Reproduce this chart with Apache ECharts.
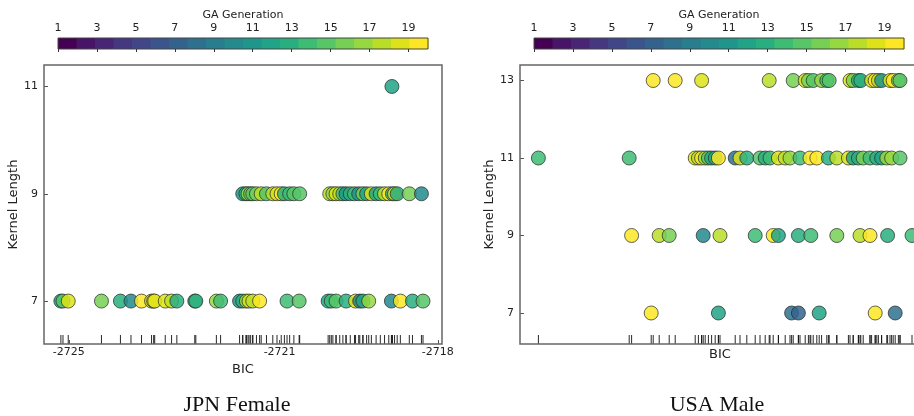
<!DOCTYPE html>
<html lang="en">
<head>
    <meta charset="UTF-8">
    <title>GA kernel length vs BIC</title>
    <script src="https://cdn.jsdelivr.net/npm/echarts@6/dist/echarts.min.js"></script>
    <style>
        html, body { margin: 0; padding: 0; background: #fff; }
        #main { width: 914px; height: 416px; }
    </style>
</head>
<body>
<div id="main"></div>
<script type="text/javascript">
    // viridis, 20 steps (one per GA generation)
    var viridis20 = ['#440154', '#481467', '#482576', '#453781', '#404688', '#39558c', '#33638d', '#2d718e', '#287d8e', '#238a8d',
        '#1f968b', '#20a386', '#29af7f', '#3dbc74', '#56c667', '#75d054', '#95d840', '#bade28', '#dde318', '#fde725'];
    var genTicks = [1, 3, 5, 7, 9, 11, 13, 15, 17, 19];

    // JPN Female: BIC and generation per kernel length
    var jpnBic7 = [-2725.15, -2725.11, -2725.01, -2724.38, -2724.02, -2723.82, -2723.62, -2723.43, -2723.39, -2723.37, -2723.17, -2723.05, -2722.95,
        -2722.61, -2722.59, -2722.20, -2722.12, -2721.76, -2721.70, -2721.63, -2721.58, -2721.51, -2721.38, -2720.86, -2720.63,
        -2720.08, -2720.02, -2719.93, -2719.74, -2719.56, -2719.48, -2719.42, -2719.31, -2718.88, -2718.71, -2718.48, -2718.28];
    var jpnGen7 = [12, 15, 19, 16, 13, 10, 20, 18, 20, 19, 19, 18, 13, 14, 13, 17, 14, 11, 13, 17, 19, 18, 20, 14, 15,
        12, 14, 15, 13, 19, 9, 12, 17, 10, 20, 13, 15];
    var jpnBic9 = [-2721.70, -2721.64, -2721.60, -2721.55, -2721.51, -2721.44, -2721.35, -2721.25, -2721.13, -2721.05, -2720.97, -2720.91,
        -2720.81, -2720.73, -2720.62, -2720.05, -2719.99, -2719.93, -2719.86, -2719.80, -2719.74, -2719.66, -2719.58, -2719.50,
        -2719.42, -2719.35, -2719.26, -2719.17, -2719.09, -2719.01, -2718.93, -2718.86, -2718.82, -2718.77, -2718.54, -2718.31];
    var jpnGen9 = [11, 13, 17, 16, 15, 16, 18, 15, 18, 19, 20, 13, 14, 15, 15, 18, 17, 19, 18, 14, 11, 13, 14, 11,
        16, 12, 19, 12, 14, 18, 20, 13, 19, 13, 16, 10];
    var jpnBic11 = [-2718.87];
    var jpnGen11 = [12];
    var jpnTicks = [-2725, -2721, -2718];

    // USA Male: relative BIC (axis has no tick labels) and generation per kernel length
    var usaBic7 = [3.28, 4.96, 6.79, 6.96, 7.48, 8.88, 9.38];
    var usaGen7 = [20, 12, 8, 7, 12, 20, 8];
    var usaBic9 = [2.79, 3.48, 3.73, 4.58, 5.00, 5.88, 6.33, 6.46, 6.96, 7.27, 7.92, 8.50, 8.75, 9.19, 9.80];
    var usaGen9 = [20, 18, 16, 10, 18, 14, 20, 12, 13, 14, 16, 18, 20, 13, 14];
    var usaBic11 = [0.46, 2.73, 4.38, 4.46, 4.54, 4.63, 4.71, 4.79, 4.88, 4.96, 5.38, 5.50, 5.67, 6.00, 6.13, 6.25, 6.46, 6.63,
        6.75, 7.00, 7.25, 7.42, 7.71, 7.92, 8.21, 8.33, 8.46, 8.58, 8.75, 8.92, 9.04, 9.17, 9.29, 9.50];
    var usaGen11 = [14, 14, 19, 18, 20, 17, 15, 13, 12, 20, 8, 19, 13, 15, 13, 14, 19, 18,
        17, 14, 20, 20, 13, 18, 19, 12, 13, 16, 14, 13, 12, 17, 17, 15];
    var usaBic13 = [3.33, 3.88, 4.54, 6.23, 6.83, 7.13, 7.21, 7.33, 7.54, 7.67, 7.73, 8.25, 8.33, 8.46, 8.52, 8.79, 8.88, 8.96,
        9.04, 9.25, 9.33, 9.46, 9.50];
    var usaGen13 = [20, 20, 19, 18, 16, 19, 16, 15, 17, 14, 15, 19, 16, 13, 13, 19, 20, 18, 11, 19, 20, 16, 15];

    function rows(bics, kernel, gens) {
        return bics.map(function (b, i) { return [b, kernel, gens[i]]; });
    }
    var jpnPoints = [].concat(rows(jpnBic7, 7, jpnGen7), rows(jpnBic9, 9, jpnGen9), rows(jpnBic11, 11, jpnGen11));
    var usaPoints = [].concat(rows(usaBic7, 7, usaGen7), rows(usaBic9, 9, usaGen9), rows(usaBic11, 11, usaGen11), rows(usaBic13, 13, usaGen13));

    var jpnYMin = 6.2, usaYMin = 6.2;
    var txt = '#222';
    var sans = 'DejaVu Sans';

    var myChart = echarts.init(document.getElementById('main'), null, {renderer: 'canvas'});

    function colorbarAxis(gridIndex) {
        return {
            gridIndex: gridIndex, type: 'value', position: 'top', min: 1, max: 20,
            name: 'GA Generation', nameLocation: 'middle', nameGap: 17,
            nameTextStyle: {color: txt, fontSize: 11, fontFamily: sans},
            axisLine: {show: false}, splitLine: {show: false},
            axisTick: {inside: true, length: 3, customValues: genTicks, lineStyle: {color: '#333'}},
            axisLabel: {customValues: genTicks, color: txt, fontSize: 11, fontFamily: sans, margin: 4}
        };
    }
    function colorbarSeries(idx) {
        var w = 19 / viridis20.length;
        return {
            type: 'custom', xAxisIndex: idx, yAxisIndex: idx, silent: true,
            data: viridis20.map(function (c, i) { return [i]; }),
            renderItem: function (params, api) {
                var i = api.value(0);
                var p0 = api.coord([1 + i * w, 1]);
                var p1 = api.coord([1 + (i + 1) * w, 0]);
                return {type: 'rect', shape: {x: p0[0], y: p0[1], width: p1[0] - p0[0] + 0.5, height: p1[1] - p0[1]},
                    style: {fill: viridis20[i]}};
            }
        };
    }
    function plotXAxis(gridIndex, min, max, ticks) {
        return {
            gridIndex: gridIndex, type: 'value', min: min, max: max,
            name: 'BIC', nameLocation: 'middle', nameGap: ticks ? 17 : 4,
            nameTextStyle: {color: txt, fontSize: 13, fontFamily: sans, verticalAlign: 'top'},
            axisLine: {show: false}, splitLine: {show: false},
            axisTick: ticks ? {inside: true, length: 4, customValues: ticks, lineStyle: {color: '#555'}} : {show: false},
            axisLabel: ticks ? {customValues: ticks, color: txt, fontSize: 11, fontFamily: sans, margin: 3,
                formatter: function (v) { return String(v); }} : {show: false}
        };
    }
    function plotYAxis(gridIndex, min, max, ticks) {
        return {
            gridIndex: gridIndex, type: 'value', min: min, max: max,
            name: 'Kernel Length', nameLocation: 'middle', nameGap: 22,
            nameTextStyle: {color: txt, fontSize: 13, fontFamily: sans},
            axisLine: {show: false}, splitLine: {show: false},
            axisTick: {inside: true, length: 4, customValues: ticks, lineStyle: {color: '#555'}},
            axisLabel: {customValues: ticks, color: txt, fontSize: 11, fontFamily: sans, margin: 6}
        };
    }
    function pointSeries(idx, data) {
        return {
            type: 'scatter', xAxisIndex: idx, yAxisIndex: idx, data: data, symbolSize: 14, z: 3,
            itemStyle: {
                color: function (p) { return viridis20[p.data[2] - 1]; },
                opacity: 0.85, borderColor: 'rgba(40,40,40,0.85)', borderWidth: 1
            }
        };
    }
    function rugSeries(idx, data, yMin) {
        return {
            type: 'scatter', xAxisIndex: idx, yAxisIndex: idx, silent: true, z: 2,
            data: data.map(function (d) { return [d[0], yMin]; }),
            symbol: 'rect', symbolSize: [1, 9], symbolOffset: [0, -4.5],
            itemStyle: {color: '#111', opacity: 0.9}
        };
    }

    function grid(left, top, width, height, border, bw) {
        return {left: left, top: top, width: width, height: height, show: true, z: 5, outerBoundsMode: 'none',
            containLabel: false, borderColor: border, borderWidth: bw, backgroundColor: 'transparent'};
    }

    var option = {
        animation: false,
        backgroundColor: '#fff',
        grid: [
            grid(58, 38, 370, 11, '#444', 1),
            grid(534, 38, 370, 11, '#444', 1),
            grid(44, 65, 398, 279, '#666', 1.5),
            grid(520, 65, 400, 279, '#666', 1.5)
        ],
        xAxis: [
            colorbarAxis(0), colorbarAxis(1),
            plotXAxis(2, -2725.47, -2717.92, jpnTicks),
            plotXAxis(3, 0, 10, null)
        ],
        yAxis: [
            {gridIndex: 0, type: 'value', min: 0, max: 1, show: false},
            {gridIndex: 1, type: 'value', min: 0, max: 1, show: false},
            plotYAxis(2, jpnYMin, 11.4, [7, 9, 11]),
            plotYAxis(3, usaYMin, 13.4, [7, 9, 11, 13])
        ],
        series: [
            colorbarSeries(0), colorbarSeries(1),
            rugSeries(2, jpnPoints, jpnYMin), pointSeries(2, jpnPoints),
            rugSeries(3, usaPoints, usaYMin), pointSeries(3, usaPoints)
        ],
        graphic: [
            {type: 'text', x: 237, y: 394, style: {text: 'JPN Female', fontSize: 22, fontFamily: 'Liberation Serif', fill: '#111', align: 'center'}},
            {type: 'text', x: 717, y: 394, style: {text: 'USA Male', fontSize: 22, fontFamily: 'Liberation Serif', fill: '#111', align: 'center'}}
        ]
    };
    myChart.setOption(option);
</script>
</body>
</html>
